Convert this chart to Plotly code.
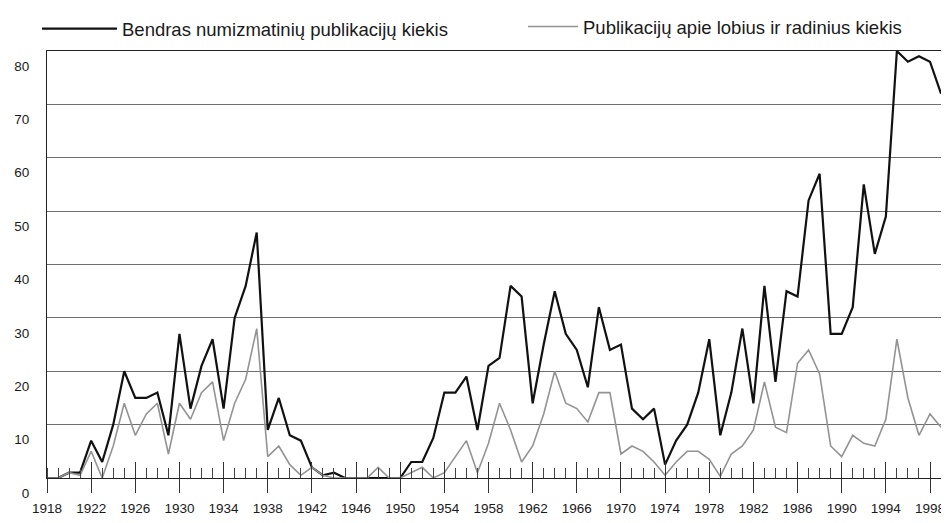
import plotly.graph_objects as go

years = list(range(1918, 2000))

total_publications = [
    0, 0, 1, 1, 7, 3, 10, 20, 15, 15,        # 1918-1927
    16, 8, 27, 13, 21, 26, 13, 30, 36, 46,   # 1928-1937
    9, 15, 8, 7, 2, 0.5, 1, 0, 0, 0,         # 1938-1947
    0, 0, 0, 3, 3, 7.5, 16, 16, 19, 9,       # 1948-1957
    21, 22.5, 36, 34, 14, 25, 35, 27, 24, 17,  # 1958-1967
    32, 24, 25, 13, 11, 13, 2.5, 7, 10, 16,  # 1968-1977
    26, 8, 16, 28, 14, 36, 18, 35, 34, 52,   # 1978-1987
    57, 27, 27, 32, 55, 42, 49, 80, 78, 79,  # 1988-1997
    78, 72,                                  # 1998-1999
]

hoard_publications = [
    0, 0, 1, 0.5, 5, 0, 6, 14, 8, 12,        # 1918-1927
    14, 4.5, 14, 11, 16, 18, 7, 14, 18.5, 28,  # 1928-1937
    4, 6, 2.5, 0.5, 2, 0.5, 0, 0, 0, 0,      # 1938-1947
    2, 0, 0, 1, 2, 0, 1, 4, 7, 1,            # 1948-1957
    6.5, 14, 9, 3, 6, 12, 20, 14, 13, 10.5,  # 1958-1967
    16, 16, 4.5, 6, 5, 3, 0.5, 3, 5, 5,      # 1968-1977
    3.5, 0.3, 4.5, 6, 9, 18, 9.5, 8.5, 21.5, 24,  # 1978-1987
    19.5, 6, 4, 8, 6.5, 6, 11, 26, 15, 8,    # 1988-1997
    12, 9.5,                                 # 1998-1999
]

name_total = "Bendras numizmatinių publikacijų kiekis"
name_hoard = "Publikacijų apie lobius ir radinius kiekis"

y_ticks = [0, 10, 20, 30, 40, 50, 60, 70, 80]
x_major = list(range(1918, 2000, 4))

FONT = "Liberation Sans, Arial, Helvetica, sans-serif"

# the page body adds an 8px offset, so the figure is 8px smaller and margins compensate
W, H = 941, 515

fig = go.Figure()
fig.add_trace(go.Scatter(x=years, y=total_publications, mode="lines", name=name_total,
                         line=dict(color="#111111", width=2.2), cliponaxis=False,
                         legend="legend"))
fig.add_trace(go.Scatter(x=years, y=hoard_publications, mode="lines", name=name_hoard,
                         line=dict(color="#939393", width=1.6), cliponaxis=False,
                         legend="legend2"))
# invisible trace carrying the upper half of the major ticks
fig.add_trace(go.Scatter(x=[years[0]], y=[0], xaxis="x2", mode="markers",
                         marker=dict(opacity=0), showlegend=False, hoverinfo="skip"))

legend_common = dict(orientation="h", xref="container", yref="container",
                     xanchor="left", yanchor="top",
                     font=dict(size=18.5, family=FONT, color="#1a1a1a"),
                     bgcolor="rgba(0,0,0,0)", borderwidth=0)

fig.update_layout(
    width=W, height=H,
    margin=dict(l=39, r=3, t=43, b=45, autoexpand=False),
    paper_bgcolor="white", plot_bgcolor="white",
    font=dict(family=FONT, color="#1a1a1a"),
    showlegend=True,
    legend=dict(**legend_common, x=29 / W, y=1 - 2 / H, itemwidth=75),
    legend2=dict(**legend_common, x=515 / W, y=1.0, itemwidth=50),
    xaxis=dict(range=[1918, 1999.45], tickmode="array", tickvals=x_major,
               ticks="outside", ticklen=14, tickwidth=1, tickcolor="#333",
               showline=True, linecolor="#222", linewidth=1.2, mirror=True,
               showgrid=False, zeroline=False,
               tickfont=dict(size=13.5, family=FONT, color="#1a1a1a"),
               ticklabelstandoff=4,
               minor=dict(ticks="inside", dtick=1, tick0=1918, ticklen=10,
                          tickwidth=1, tickcolor="#444", showgrid=False)),
    xaxis2=dict(range=[1918, 1999.45], overlaying="x", anchor="y", side="bottom",
                tickmode="array", tickvals=x_major, ticks="inside", ticklen=16,
                tickwidth=1, tickcolor="#333", showticklabels=False,
                showline=False, showgrid=False, zeroline=False),
    yaxis=dict(range=[0, 80], tickmode="array", tickvals=y_ticks,
               ticktext=[str(v) for v in y_ticks],
               ticks="", showline=True, linecolor="#222", linewidth=1.2, mirror=True,
               showgrid=True, gridcolor="#6e6e6e", gridwidth=1, zeroline=False,
               tickfont=dict(size=13.5, family=FONT, color="#1a1a1a"),
               ticklabelstandoff=14, ticklabelshift=15),
)

fig.write_html("out.html")
